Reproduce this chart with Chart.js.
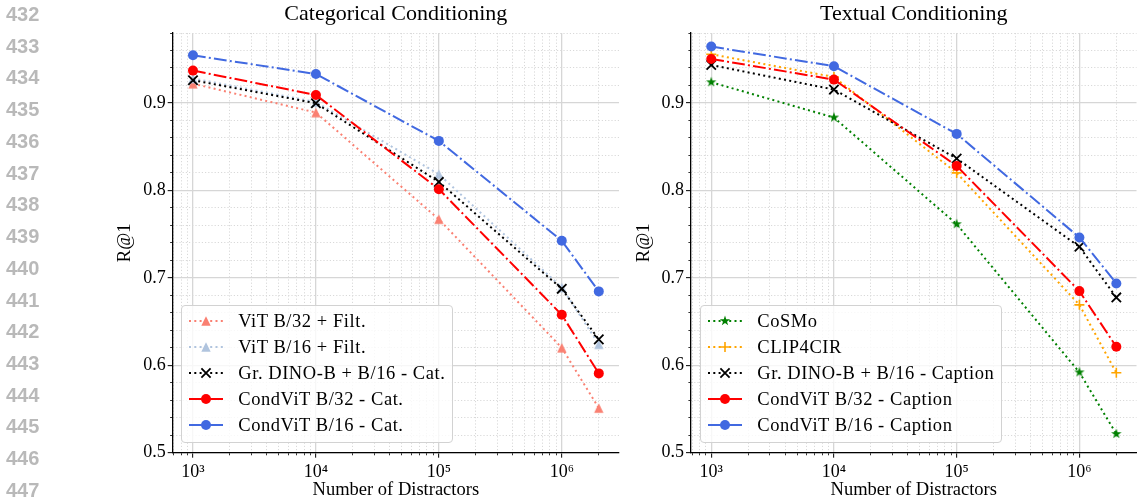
<!DOCTYPE html>
<html>
<head>
<meta charset="utf-8">
<script src="https://cdn.jsdelivr.net/npm/chart.js@4.4.1/dist/chart.umd.min.js"></script>
<style>
  html, body { margin: 0; padding: 0; background: #fff; }
  body { width: 1137px; height: 499px; position: relative; overflow: hidden; font-family: 'Liberation Serif', serif; }
  .ln { position: absolute; left: 6px; font: bold 20px 'Liberation Sans', Arial, sans-serif; color: #b9b9b9; line-height: 20px; }
  .plot { position: absolute; top: 0; }
  .legend { position: absolute; bottom: 55.7px; background: rgba(255,255,255,0.8); border: 1px solid #d2d2d2; border-radius: 4px; padding: 2px 7px 4.3px 7.3px; }
  .legend .row { display: flex; align-items: center; height: 26px; white-space: nowrap; }
  .legend svg { flex: none; margin-right: 15px; }
  .legend span { font-size: 18.5px; line-height: 26px; color: #000; letter-spacing: 0.55px; }
</style>
</head>
<body>
<div class="plot" id="boxA" style="left:0;width:630px;height:499px"><canvas id="cA" width="630" height="499"></canvas></div>
<div class="plot" id="boxB" style="left:630px;width:507px;height:499px"><canvas id="cB" width="507" height="499"></canvas></div>
<div class="legend" id="legA" style="left:181px"></div>
<div class="legend" id="legB" style="left:700px"></div>
<script>
// ---------------- data ----------------
const xValues = [1e3, 1e4, 1e5, 1e6, 2e6];
const xMajorTicks = [1e3, 1e4, 1e5, 1e6];
const xTickLabels = ['10³', '10⁴', '10⁵', '10⁶'];
const yMajorTicks = [0.5, 0.6, 0.7, 0.8, 0.9];
const yTickLabels = ['0.5', '0.6', '0.7', '0.8', '0.9'];
const xLimits = [684, 2.92e6];
const yLimits = [0.5, 0.98];
const lineNumbers = [432, 433, 434, 435, 436, 437, 438, 439, 440, 441, 442, 443, 444, 445, 446, 447];

const titleCat = 'Categorical Conditioning';
const titleText = 'Textual Conditioning';
const xTitle = 'Number of Distractors';
const yTitle = 'R@1';

// Categorical conditioning
const catLabels = ['ViT B/32 + Filt.', 'ViT B/16 + Filt.', 'Gr. DINO-B + B/16 - Cat.', 'CondViT B/32 - Cat.', 'CondViT B/16 - Cat.'];
const catVitB32Filt = [0.922, 0.889, 0.767, 0.620, 0.551];
const catVitB16Filt = [0.928, 0.901, 0.8185, 0.689, 0.624];
const catDinoB16 = [0.926, 0.8997, 0.8097, 0.6874, 0.6296];
const catCondB32 = [0.937, 0.9091, 0.8014, 0.6577, 0.5907];
const catCondB16 = [0.9545, 0.9331, 0.8566, 0.7423, 0.6845];

// Textual conditioning
const txtLabels = ['CoSMo', 'CLIP4CIR', 'Gr. DINO-B + B/16 - Caption', 'CondViT B/32 - Caption', 'CondViT B/16 - Caption'];
const txtCosmo = [0.9237, 0.8833, 0.7614, 0.5919, 0.5214];
const txtClip4cir = [0.9557, 0.9297, 0.820, 0.6691, 0.5914];
const txtDinoB16 = [0.9434, 0.9153, 0.8365, 0.7355, 0.6776];
const txtCondB32 = [0.9503, 0.9267, 0.828, 0.6848, 0.6211];
const txtCondB16 = [0.9645, 0.942, 0.8646, 0.7462, 0.6936];

// ---------------- styles ----------------
const LW = 2;
const DOT = [2, 3.3];
const DASHDOT = [12.8, 3.2, 2, 3.2];
const FONT = "'Liberation Serif', serif";

const catSeries = [
  { label: catLabels[0], data: catVitB32Filt, color: '#fa8072', dash: DOT, marker: 'triangle' },
  { label: catLabels[1], data: catVitB16Filt, color: '#b0c4de', dash: DOT, marker: 'triangle' },
  { label: catLabels[2], data: catDinoB16, color: '#000000', dash: DOT, marker: 'x' },
  { label: catLabels[3], data: catCondB32, color: '#ff0000', dash: DASHDOT, marker: 'circle' },
  { label: catLabels[4], data: catCondB16, color: '#4169e1', dash: DASHDOT, marker: 'circle' },
];
const txtSeries = [
  { label: txtLabels[0], data: txtCosmo, color: '#008000', dash: DOT, marker: 'star' },
  { label: txtLabels[1], data: txtClip4cir, color: '#ffa500', dash: DOT, marker: 'plus' },
  { label: txtLabels[2], data: txtDinoB16, color: '#000000', dash: DOT, marker: 'x' },
  { label: txtLabels[3], data: txtCondB32, color: '#ff0000', dash: DASHDOT, marker: 'circle' },
  { label: txtLabels[4], data: txtCondB16, color: '#4169e1', dash: DASHDOT, marker: 'circle' },
];

// ---------------- line numbers ----------------
lineNumbers.forEach((n, i) => {
  const d = document.createElement('div');
  d.className = 'ln';
  d.textContent = String(n);
  d.style.top = (14 + 31.73 * i - 10) + 'px';
  document.body.appendChild(d);
});

// ---------------- markers ----------------
function starPoints(cx, cy, R, r) {
  const pts = [];
  for (let i = 0; i < 10; i++) {
    const rad = i % 2 ? r : R;
    const a = -Math.PI / 2 + i * Math.PI / 5;
    pts.push([cx + rad * Math.cos(a), cy + rad * Math.sin(a)]);
  }
  return pts;
}
function triPoints(cx, cy, h) {
  return [[cx, cy - h], [cx - h, cy + h], [cx + h, cy + h]];
}
function shapeCanvas(type, color) {
  const c = document.createElement('canvas');
  c.width = 14; c.height = 14;
  const g = c.getContext('2d');
  g.fillStyle = color;
  const pts = type === 'star' ? starPoints(7, 7, 5.4, 2.1) : triPoints(7, 7, 4.7);
  g.beginPath();
  pts.forEach((p, i) => i ? g.lineTo(p[0], p[1]) : g.moveTo(p[0], p[1]));
  g.closePath();
  g.fill();
  return c;
}
function pointProps(s) {
  if (s.marker === 'circle') return { pointStyle: 'circle', pointRadius: 5, pointBorderWidth: 0 };
  if (s.marker === 'x') return { pointStyle: 'crossRot', pointRadius: 6.6, pointBorderWidth: 1.8 };
  if (s.marker === 'plus') return { pointStyle: 'cross', pointRadius: 5, pointBorderWidth: 1.6 };
  return { pointStyle: shapeCanvas(s.marker, s.color), pointRadius: 5, pointBorderWidth: 0 };
}

// ---------------- legend ----------------
function markerSVG(s) {
  const c = s.color;
  if (s.marker === 'circle') return `<circle cx="17" cy="7" r="5" fill="${c}"/>`;
  if (s.marker === 'x') return `<path d="M12.4 2.4 L21.6 11.6 M12.4 11.6 L21.6 2.4" stroke="${c}" stroke-width="1.8"/>`;
  if (s.marker === 'plus') return `<path d="M12 7 L22 7 M17 2 L17 12" stroke="${c}" stroke-width="1.6"/>`;
  const pts = s.marker === 'star' ? starPoints(17, 7, 5.4, 2.1) : triPoints(17, 7, 4.7);
  return `<polygon points="${pts.map(p => p.join(',')).join(' ')}" fill="${c}"/>`;
}
function buildLegend(el, series) {
  series.forEach(s => {
    const row = document.createElement('div');
    row.className = 'row';
    row.innerHTML = `<svg width="34" height="14" viewBox="0 0 34 14"><line x1="0" y1="7" x2="34" y2="7" stroke="${s.color}" stroke-width="${LW}" stroke-dasharray="${s.dash.join(' ')}"/>${markerSVG(s)}</svg>`;
    const sp = document.createElement('span');
    sp.textContent = s.label;
    row.appendChild(sp);
    el.appendChild(row);
  });
}

// ---------------- ticks ----------------
const xMinorTicks = [];
for (let e = 2; e <= 6; e++) {
  for (let k = 2; k <= 9; k++) {
    const v = k * Math.pow(10, e);
    if (v >= xLimits[0] && v <= xLimits[1]) xMinorTicks.push(v);
  }
}
const yMinorTicks = [];
for (let i = 1; i <= 24; i++) {
  if (i % 5 !== 0) yMinorTicks.push(+(0.5 + 0.02 * i).toFixed(2));
}

// ---------------- charts ----------------
Chart.defaults.font.family = FONT;
Chart.defaults.color = '#000';

function makeChart(canvas, series, title, yWidth, yTitlePad, padRight) {
  return new Chart(canvas, {
    type: 'line',
    data: {
      datasets: series.map((s, i) => Object.assign({
        label: s.label,
        data: xValues.map((x, j) => ({ x: x, y: s.data[j] })),
        borderColor: s.color,
        backgroundColor: s.color,
        pointBackgroundColor: s.color,
        pointBorderColor: s.color,
        borderWidth: LW,
        borderDash: s.dash,
        borderCapStyle: 'butt',
        fill: false,
        tension: 0,
        order: series.length - i,
      }, pointProps(s)))
    },
    options: {
      responsive: false,
      animation: false,
      devicePixelRatio: 1,
      layout: { autoPadding: false, padding: { left: 0, right: padRight, top: 0, bottom: 0 } },
      plugins: {
        legend: { display: false },
        tooltip: { enabled: false },
        title: {
          display: true, text: title, fullSize: false, color: '#000',
          font: { family: FONT, size: 22, weight: 'normal', lineHeight: 1.2 },
          padding: { top: 0.8, bottom: 5.8 }
        }
      },
      scales: {
        x: {
          type: 'logarithmic', position: 'bottom', min: xLimits[0], max: xLimits[1], bounds: 'data',
          afterBuildTicks: s => { s.ticks = xMajorTicks.map(v => ({ value: v, major: true })); },
          afterFit: s => { s.height = 46.3; },
          ticks: {
            autoSkip: false, maxRotation: 0, padding: 3.5, color: '#000',
            font: { family: FONT, size: 18 },
            callback: v => { const k = xMajorTicks.indexOf(v); return k >= 0 ? xTickLabels[k] : ''; }
          },
          grid: { color: '#d6d6d6', lineWidth: 1.3, drawTicks: true, tickLength: 5, tickColor: '#000', tickWidth: 1 },
          border: { display: true, color: '#000', width: 1.3 },
          title: { display: true, text: xTitle, color: '#000', font: { family: FONT, size: 18.5, lineHeight: 1 }, padding: { top: 0, bottom: -0.2 } }
        },
        xMinor: {
          type: 'logarithmic', position: 'bottom', weight: -1, min: xLimits[0], max: xLimits[1], bounds: 'data',
          afterBuildTicks: s => { s.ticks = xMinorTicks.map(v => ({ value: v })); },
          afterFit: s => { s.height = 0; },
          ticks: { display: false },
          grid: { color: '#d9d9d9', lineWidth: 1, drawTicks: true, tickLength: 2.6, tickColor: '#000', tickWidth: 0.8 },
          border: { display: false, dash: [1.2, 2] }
        },
        y: {
          type: 'linear', position: 'left', min: yLimits[0], max: yLimits[1], bounds: 'data',
          afterBuildTicks: s => { s.ticks = yMajorTicks.map(v => ({ value: v, major: true })); },
          afterFit: s => { s.width = yWidth; },
          ticks: {
            padding: 2, color: '#000', font: { family: FONT, size: 18 },
            callback: v => { const k = yMajorTicks.indexOf(v); return k >= 0 ? yTickLabels[k] : ''; }
          },
          grid: { color: '#d6d6d6', lineWidth: 1.3, drawTicks: true, tickLength: 5, tickColor: '#000', tickWidth: 1 },
          border: { display: true, color: '#000', width: 1.3 },
          title: { display: true, text: yTitle, color: '#000', font: { family: FONT, size: 18.5, lineHeight: 1.2 }, padding: { top: yTitlePad, bottom: 0 } }
        },
        yMinor: {
          type: 'linear', position: 'left', weight: -1, min: yLimits[0], max: yLimits[1], bounds: 'data',
          afterBuildTicks: s => { s.ticks = yMinorTicks.map(v => ({ value: v })); },
          afterFit: s => { s.width = 0; },
          ticks: { display: false },
          grid: { color: '#d9d9d9', lineWidth: 1, drawTicks: true, tickLength: 2.6, tickColor: '#000', tickWidth: 0.8 },
          border: { display: false, dash: [1.2, 2] }
        }
      }
    }
  });
}

makeChart(document.getElementById('cA'), catSeries, titleCat, 172.7, 114.4, 11);
makeChart(document.getElementById('cB'), txtSeries, titleText, 61, 2.7, 0.5);
buildLegend(document.getElementById('legA'), catSeries);
buildLegend(document.getElementById('legB'), txtSeries);
</script>
</body>
</html>
